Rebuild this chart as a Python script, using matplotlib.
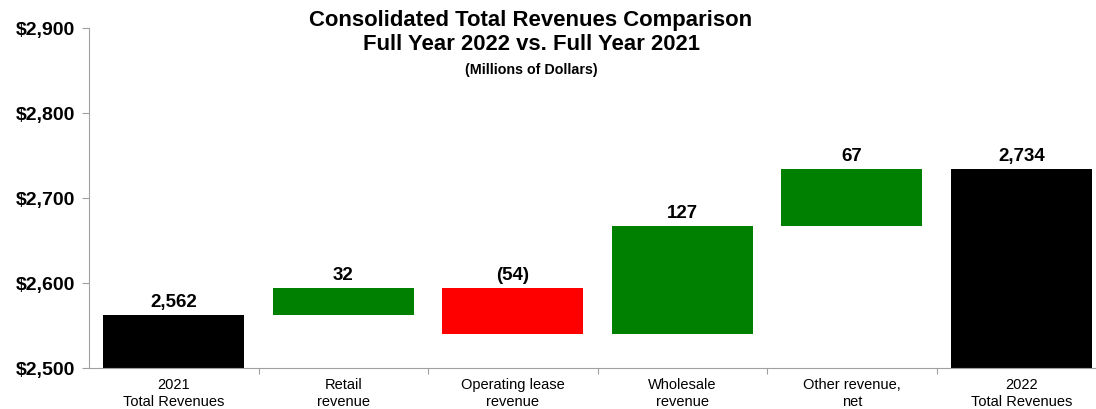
import matplotlib.pyplot as plt
from matplotlib.ticker import FuncFormatter

plt.rcParams['font.family'] = ['Liberation Sans', 'DejaVu Sans']

# revenue bridge, millions of dollars
categories = ["2021\nTotal Revenues", "Retail\nrevenue", "Operating lease\nrevenue",
              "Wholesale\nrevenue", "Other revenue,\nnet", "2022\nTotal Revenues"]
start_total = 2562
changes = [32, -54, 127, 67]
end_total = 2734

bottoms = [0]
heights = [start_total]
colors = ["black"]
running = start_total
for c in changes:
    if c >= 0:
        bottoms.append(running)
        heights.append(c)
        colors.append("#008000")
    else:
        bottoms.append(running + c)
        heights.append(-c)
        colors.append("#FF0000")
    running += c
bottoms.append(0)
heights.append(end_total)
colors.append("black")

labels = ["{:,}".format(start_total)] + \
         [str(c) if c >= 0 else "({})".format(-c) for c in changes] + \
         ["{:,}".format(end_total)]

fig = plt.figure(figsize=(10.96, 4.09), dpi=100)
ax = fig.add_axes([0.0812, 0.1002, 0.928, 0.8313])

x = range(len(categories))
ax.bar(x, heights, bottom=bottoms, width=0.83, color=colors)

for i in x:
    top = bottoms[i] + heights[i]
    ax.text(i, top + 5, labels[i], ha="center", va="bottom",
            fontsize=13.5, fontweight="bold")

ax.set_ylim(2500, 2900)
ax.set_yticks([2500, 2600, 2700, 2800, 2900])
ax.yaxis.set_major_formatter(FuncFormatter(lambda v, p: "${:,.0f}".format(v)))
ax.set_xlim(-0.5, len(categories) - 0.5)
ax.set_xticks([i + 0.5 for i in range(len(categories) - 1)])
ax.set_xticklabels([])
ax.set_xticks(list(x), minor=True)
ax.set_xticklabels(categories, minor=True, fontsize=10.5, linespacing=1.3)
ax.tick_params(axis="x", which="minor", length=0, pad=7)
ax.tick_params(axis="x", which="major", length=4, color="#A0A0A0")
ax.tick_params(axis="y", length=5, color="#A0A0A0", labelsize=14, pad=5)
for t in ax.get_yticklabels():
    t.set_fontweight("bold")

for s in ["top", "right"]:
    ax.spines[s].set_visible(False)
ax.spines["left"].set_color("#A0A0A0")
ax.spines["bottom"].set_color("#A0A0A0")

fig.text(0.4845, 0.949, "Consolidated Total Revenues Comparison", ha="center", va="center",
         fontsize=15.9, fontweight="bold")
fig.text(0.4845, 0.890, "Full Year 2022 vs. Full Year 2021", ha="center", va="center",
         fontsize=15.9, fontweight="bold")
fig.text(0.4845, 0.829, "(Millions of Dollars)", ha="center", va="center",
         fontsize=10.3, fontweight="bold")

fig.savefig("out.png", dpi=100)
